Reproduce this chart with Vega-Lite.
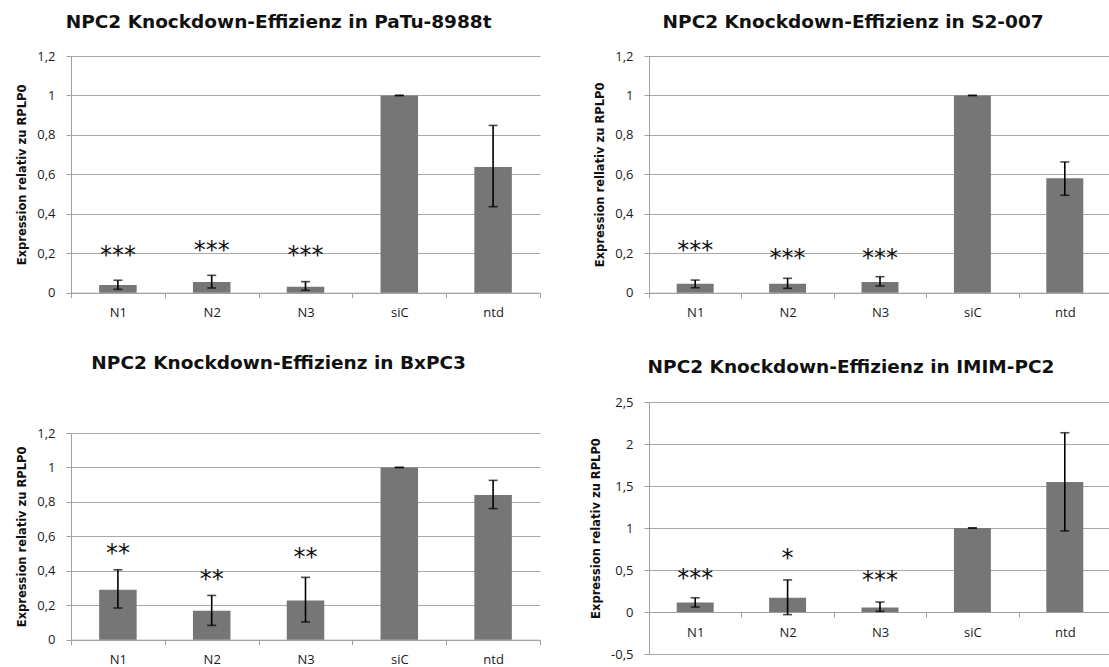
{
  "$schema": "https://vega.github.io/schema/vega-lite/v6.json",
  "background": "white",
  "padding": {"left": 16, "top": 12, "right": 0, "bottom": 0},
  "config": {
    "view": {"stroke": null},
    "font": "Open Sans",
    "axis": {
      "labelFont": "Open Sans", "labelFontSize": 13, "labelColor": "#1a1a1a",
      "domainColor": "#a0a0a0", "tickColor": "#a0a0a0", "gridColor": "#a8a8a8",
      "titleFont": "DejaVu Sans", "titleFontWeight": "bold", "titleFontSize": 11.5, "titleColor": "#111111",
      "tickSize": 5
    },
    "axisX": {"grid": false, "tickBand": "extent", "labelAngle": 0, "title": null, "labelPadding": 9},
    "axisY": {"grid": true, "labelPadding": 11, "titlePadding": 9, "labelExpr": "replace(toString(datum.value), '.', ',')"},
    "title": {"font": "DejaVu Sans", "fontSize": 18.5, "fontWeight": "bold", "color": "#111111", "anchor": "middle", "frame": "bounds"}
  },
  "hconcat": [
    {
      "vconcat": [
        {
          "width": 469, "height": 236.7,
          "title": {"text": "NPC2 Knockdown-Effizienz in PaTu-8988t", "offset": 19},
          "data": {"values": [
            {"cat": "N1", "mean": 0.039, "lo": 0.017, "hi": 0.063, "stars": "***", "star_y": 0.22},
            {"cat": "N2", "mean": 0.054, "lo": 0.024, "hi": 0.088, "stars": "***", "star_y": 0.245},
            {"cat": "N3", "mean": 0.030, "lo": 0.012, "hi": 0.056, "stars": "***", "star_y": 0.22},
            {"cat": "siC", "mean": 1.0, "lo": 1.0, "hi": 1.0, "stars": "", "star_y": 0},
            {"cat": "ntd", "mean": 0.637, "lo": 0.436, "hi": 0.848, "stars": "", "star_y": 0}
          ]},
          "encoding": {"x": {"field": "cat", "type": "nominal", "sort": null, "scale": {"paddingInner": 0, "paddingOuter": 0}}},
          "layer": [
            {"mark": {"type": "bar", "color": "#767676", "width": {"band": 0.4}},
             "encoding": {"y": {"field": "mean", "type": "quantitative", "scale": {"domain": [0, 1.2], "nice": false},
               "axis": {"values": [0, 0.2, 0.4, 0.6, 0.8, 1, 1.2], "title": "Expression relativ zu RPLP0"}}}},
            {"mark": {"type": "rule", "color": "#000000", "strokeWidth": 1.6},
             "encoding": {"y": {"field": "lo", "type": "quantitative", "scale": {"domain": [0, 1.2], "nice": false},
               "axis": {"values": [0, 0.2, 0.4, 0.6, 0.8, 1, 1.2], "title": "Expression relativ zu RPLP0"}}, "y2": {"field": "hi"}}},
            {"mark": {"type": "tick", "color": "#000000", "size": 9, "thickness": 1.6},
             "encoding": {"y": {"field": "hi", "type": "quantitative", "scale": {"domain": [0, 1.2], "nice": false},
               "axis": {"values": [0, 0.2, 0.4, 0.6, 0.8, 1, 1.2], "title": "Expression relativ zu RPLP0"}}}},
            {"mark": {"type": "tick", "color": "#000000", "size": 9, "thickness": 1.6},
             "encoding": {"y": {"field": "lo", "type": "quantitative", "scale": {"domain": [0, 1.2], "nice": false},
               "axis": {"values": [0, 0.2, 0.4, 0.6, 0.8, 1, 1.2], "title": "Expression relativ zu RPLP0"}}}},
            {"mark": {"type": "text", "font": "DejaVu Sans", "fontSize": 24, "color": "#111111", "baseline": "alphabetic", "dy": 14},
             "encoding": {"y": {"field": "star_y", "type": "quantitative", "scale": {"domain": [0, 1.2], "nice": false},
               "axis": {"values": [0, 0.2, 0.4, 0.6, 0.8, 1, 1.2], "title": "Expression relativ zu RPLP0"}}, "text": {"field": "stars"}}}
          ]
        },
        {
          "width": 469, "height": 206.7,
          "title": {"text": "NPC2 Knockdown-Effizienz in BxPC3", "offset": 55},
          "data": {"values": [
            {"cat": "N1", "mean": 0.29, "lo": 0.184, "hi": 0.406, "stars": "**", "star_y": 0.536},
            {"cat": "N2", "mean": 0.168, "lo": 0.083, "hi": 0.257, "stars": "**", "star_y": 0.387},
            {"cat": "N3", "mean": 0.228, "lo": 0.103, "hi": 0.362, "stars": "**", "star_y": 0.513},
            {"cat": "siC", "mean": 1.0, "lo": 1.0, "hi": 1.0, "stars": "", "star_y": 0},
            {"cat": "ntd", "mean": 0.840, "lo": 0.761, "hi": 0.925, "stars": "", "star_y": 0}
          ]},
          "encoding": {"x": {"field": "cat", "type": "nominal", "sort": null, "scale": {"paddingInner": 0, "paddingOuter": 0}}},
          "layer": [
            {"mark": {"type": "bar", "color": "#767676", "width": {"band": 0.4}},
             "encoding": {"y": {"field": "mean", "type": "quantitative", "scale": {"domain": [0, 1.2], "nice": false},
               "axis": {"values": [0, 0.2, 0.4, 0.6, 0.8, 1, 1.2], "title": "Expression relativ zu RPLP0"}}}},
            {"mark": {"type": "rule", "color": "#000000", "strokeWidth": 1.6},
             "encoding": {"y": {"field": "lo", "type": "quantitative", "scale": {"domain": [0, 1.2], "nice": false},
               "axis": {"values": [0, 0.2, 0.4, 0.6, 0.8, 1, 1.2], "title": "Expression relativ zu RPLP0"}}, "y2": {"field": "hi"}}},
            {"mark": {"type": "tick", "color": "#000000", "size": 9, "thickness": 1.6},
             "encoding": {"y": {"field": "hi", "type": "quantitative", "scale": {"domain": [0, 1.2], "nice": false},
               "axis": {"values": [0, 0.2, 0.4, 0.6, 0.8, 1, 1.2], "title": "Expression relativ zu RPLP0"}}}},
            {"mark": {"type": "tick", "color": "#000000", "size": 9, "thickness": 1.6},
             "encoding": {"y": {"field": "lo", "type": "quantitative", "scale": {"domain": [0, 1.2], "nice": false},
               "axis": {"values": [0, 0.2, 0.4, 0.6, 0.8, 1, 1.2], "title": "Expression relativ zu RPLP0"}}}},
            {"mark": {"type": "text", "font": "DejaVu Sans", "fontSize": 24, "color": "#111111", "baseline": "alphabetic", "dy": 14},
             "encoding": {"y": {"field": "star_y", "type": "quantitative", "scale": {"domain": [0, 1.2], "nice": false},
               "axis": {"values": [0, 0.2, 0.4, 0.6, 0.8, 1, 1.2], "title": "Expression relativ zu RPLP0"}}, "text": {"field": "stars"}}}
          ]
        }
      ],
      "spacing": 33
    },
    {
      "vconcat": [
        {
          "width": 462, "height": 236.7,
          "title": {"text": "NPC2 Knockdown-Effizienz in S2-007", "offset": 19},
          "data": {"values": [
            {"cat": "N1", "mean": 0.046, "lo": 0.025, "hi": 0.064, "stars": "***", "star_y": 0.245},
            {"cat": "N2", "mean": 0.046, "lo": 0.022, "hi": 0.073, "stars": "***", "star_y": 0.206},
            {"cat": "N3", "mean": 0.054, "lo": 0.034, "hi": 0.081, "stars": "***", "star_y": 0.206},
            {"cat": "siC", "mean": 1.0, "lo": 1.0, "hi": 1.0, "stars": "", "star_y": 0},
            {"cat": "ntd", "mean": 0.580, "lo": 0.494, "hi": 0.663, "stars": "", "star_y": 0}
          ]},
          "encoding": {"x": {"field": "cat", "type": "nominal", "sort": null, "scale": {"paddingInner": 0, "paddingOuter": 0}}},
          "layer": [
            {"mark": {"type": "bar", "color": "#767676", "width": {"band": 0.4}},
             "encoding": {"y": {"field": "mean", "type": "quantitative", "scale": {"domain": [0, 1.2], "nice": false},
               "axis": {"values": [0, 0.2, 0.4, 0.6, 0.8, 1, 1.2], "title": "Expression rellativ zu RPLP0"}}}},
            {"mark": {"type": "rule", "color": "#000000", "strokeWidth": 1.6},
             "encoding": {"y": {"field": "lo", "type": "quantitative", "scale": {"domain": [0, 1.2], "nice": false},
               "axis": {"values": [0, 0.2, 0.4, 0.6, 0.8, 1, 1.2], "title": "Expression rellativ zu RPLP0"}}, "y2": {"field": "hi"}}},
            {"mark": {"type": "tick", "color": "#000000", "size": 9, "thickness": 1.6},
             "encoding": {"y": {"field": "hi", "type": "quantitative", "scale": {"domain": [0, 1.2], "nice": false},
               "axis": {"values": [0, 0.2, 0.4, 0.6, 0.8, 1, 1.2], "title": "Expression rellativ zu RPLP0"}}}},
            {"mark": {"type": "tick", "color": "#000000", "size": 9, "thickness": 1.6},
             "encoding": {"y": {"field": "lo", "type": "quantitative", "scale": {"domain": [0, 1.2], "nice": false},
               "axis": {"values": [0, 0.2, 0.4, 0.6, 0.8, 1, 1.2], "title": "Expression rellativ zu RPLP0"}}}},
            {"mark": {"type": "text", "font": "DejaVu Sans", "fontSize": 24, "color": "#111111", "baseline": "alphabetic", "dy": 14},
             "encoding": {"y": {"field": "star_y", "type": "quantitative", "scale": {"domain": [0, 1.2], "nice": false},
               "axis": {"values": [0, 0.2, 0.4, 0.6, 0.8, 1, 1.2], "title": "Expression rellativ zu RPLP0"}}, "text": {"field": "stars"}}}
          ]
        },
        {
          "width": 462, "height": 252,
          "title": {"text": "NPC2 Knockdown-Effizienz in IMIM-PC2", "offset": 20},
          "data": {"values": [
            {"cat": "N1", "mean": 0.114, "lo": 0.059, "hi": 0.169, "stars": "***", "star_y": 0.48},
            {"cat": "N2", "mean": 0.169, "lo": -0.031, "hi": 0.382, "stars": "*", "star_y": 0.709},
            {"cat": "N3", "mean": 0.055, "lo": 0.008, "hi": 0.118, "stars": "***", "star_y": 0.453},
            {"cat": "siC", "mean": 1.0, "lo": 1.0, "hi": 1.0, "stars": "", "star_y": 0},
            {"cat": "ntd", "mean": 1.547, "lo": 0.965, "hi": 2.134, "stars": "", "star_y": 0}
          ]},
          "encoding": {"x": {"field": "cat", "type": "nominal", "sort": null, "scale": {"paddingInner": 0, "paddingOuter": 0}, "axis": {"offset": -42}}},
          "layer": [
            {"mark": {"type": "bar", "color": "#767676", "width": {"band": 0.4}},
             "encoding": {"y": {"field": "mean", "type": "quantitative", "scale": {"domain": [-0.5, 2.5], "nice": false, "zero": false},
               "axis": {"values": [-0.5, 0, 0.5, 1, 1.5, 2, 2.5], "title": "Expression relativ zu RPLP0"}}}},
            {"mark": {"type": "rule", "color": "#000000", "strokeWidth": 1.6},
             "encoding": {"y": {"field": "lo", "type": "quantitative", "scale": {"domain": [-0.5, 2.5], "nice": false, "zero": false},
               "axis": {"values": [-0.5, 0, 0.5, 1, 1.5, 2, 2.5], "title": "Expression relativ zu RPLP0"}}, "y2": {"field": "hi"}}},
            {"mark": {"type": "tick", "color": "#000000", "size": 9, "thickness": 1.6},
             "encoding": {"y": {"field": "hi", "type": "quantitative", "scale": {"domain": [-0.5, 2.5], "nice": false, "zero": false},
               "axis": {"values": [-0.5, 0, 0.5, 1, 1.5, 2, 2.5], "title": "Expression relativ zu RPLP0"}}}},
            {"mark": {"type": "tick", "color": "#000000", "size": 9, "thickness": 1.6},
             "encoding": {"y": {"field": "lo", "type": "quantitative", "scale": {"domain": [-0.5, 2.5], "nice": false, "zero": false},
               "axis": {"values": [-0.5, 0, 0.5, 1, 1.5, 2, 2.5], "title": "Expression relativ zu RPLP0"}}}},
            {"mark": {"type": "text", "font": "DejaVu Sans", "fontSize": 24, "color": "#111111", "baseline": "alphabetic", "dy": 14},
             "encoding": {"y": {"field": "star_y", "type": "quantitative", "scale": {"domain": [-0.5, 2.5], "nice": false, "zero": false},
               "axis": {"values": [-0.5, 0, 0.5, 1, 1.5, 2, 2.5], "title": "Expression relativ zu RPLP0"}}, "text": {"field": "stars"}}}
          ]
        }
      ],
      "spacing": 37
    }
  ],
  "spacing": 49
}
